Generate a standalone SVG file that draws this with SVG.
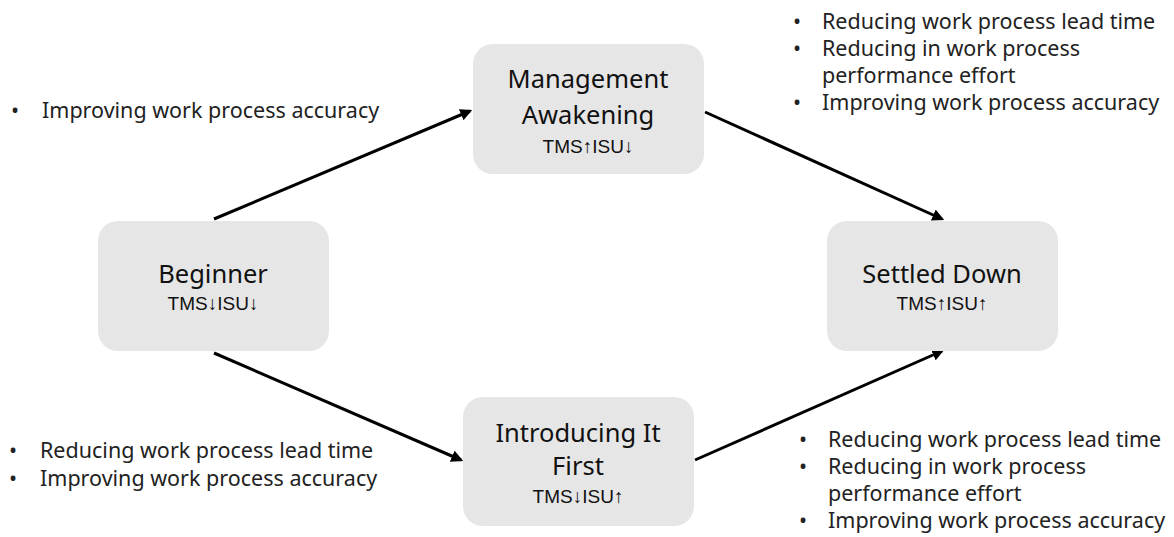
<svg xmlns="http://www.w3.org/2000/svg" width="1174" height="537" viewBox="0 0 1174 537">
<defs>
<style>
.box{fill:#e6e6e6;}
.title{font-family:"Noto Sans","Open Sans",sans-serif;font-size:25.5px;fill:#111;text-anchor:middle;}
.sub{font-family:"Liberation Sans",Arial,sans-serif;font-size:19px;fill:#111;text-anchor:middle;}
.bl{font-family:"Noto Sans","Open Sans",sans-serif;font-size:21.5px;fill:#222;}
.edge{stroke:#000;stroke-width:3;fill:none;marker-end:url(#ah);}
</style>
<marker id="ah" viewBox="0 0 10 10" refX="8" refY="5" markerWidth="4" markerHeight="4" orient="auto" markerUnits="strokeWidth">
<path d="M0,0 L10,5 L0,10 z" fill="#000"/>
</marker>
</defs>
<rect width="1174" height="537" fill="#fff"/>
<g id="connectors">
<line class="edge" x1="214" y1="219" x2="470" y2="111"/>
<line class="edge" x1="705" y1="112" x2="942" y2="219"/>
<line class="edge" x1="214" y1="353" x2="461" y2="460"/>
<line class="edge" x1="695" y1="460" x2="942" y2="351"/>
</g>
<g id="beginner">
<rect class="box" x="98" y="221" width="231" height="130" rx="20"/>
<text class="title" x="213" y="283">Beginner</text>
<text class="sub" x="213" y="310">TMS↓ISU↓</text>
</g>
<g id="management">
<rect class="box" x="473" y="44" width="231" height="130" rx="20"/>
<text class="title" x="588" y="88">Management<tspan x="588" y="124">Awakening</tspan></text>
<text class="sub" x="588" y="153">TMS↑ISU↓</text>
</g>
<g id="introducing">
<rect class="box" x="463" y="397" width="231" height="129" rx="20"/>
<text class="title" x="578" y="442">Introducing It<tspan x="578" y="475">First</tspan></text>
<text class="sub" x="578" y="503">TMS↓ISU↑</text>
</g>
<g id="settled">
<rect class="box" x="827" y="221" width="231" height="130" rx="20"/>
<text class="title" x="942" y="283">Settled Down</text>
<text class="sub" x="942" y="310">TMS↑ISU↑</text>
</g>
<g id="notes-top-left">
<text class="bl" x="11" y="118">•</text>
<text class="bl" x="42" y="118">Improving work process accuracy</text>
</g>
<g id="notes-top-right">
<text class="bl" x="793" y="29">•</text>
<text class="bl" x="822" y="29">Reducing work process lead time</text>
<text class="bl" x="793" y="56">•</text>
<text class="bl" x="822" y="56">Reducing in work process<tspan x="822" y="83">performance effort</tspan></text>
<text class="bl" x="793" y="110">•</text>
<text class="bl" x="822" y="110">Improving work process accuracy</text>
</g>
<g id="notes-bottom-left">
<text class="bl" x="9" y="458">•</text>
<text class="bl" x="40" y="458">Reducing work process lead time</text>
<text class="bl" x="9" y="486">•</text>
<text class="bl" x="40" y="486">Improving work process accuracy</text>
</g>
<g id="notes-bottom-right">
<text class="bl" x="799" y="447">•</text>
<text class="bl" x="828" y="447">Reducing work process lead time</text>
<text class="bl" x="799" y="474">•</text>
<text class="bl" x="828" y="474">Reducing in work process<tspan x="828" y="501">performance effort</tspan></text>
<text class="bl" x="799" y="528">•</text>
<text class="bl" x="828" y="528">Improving work process accuracy</text>
</g>
</svg>
